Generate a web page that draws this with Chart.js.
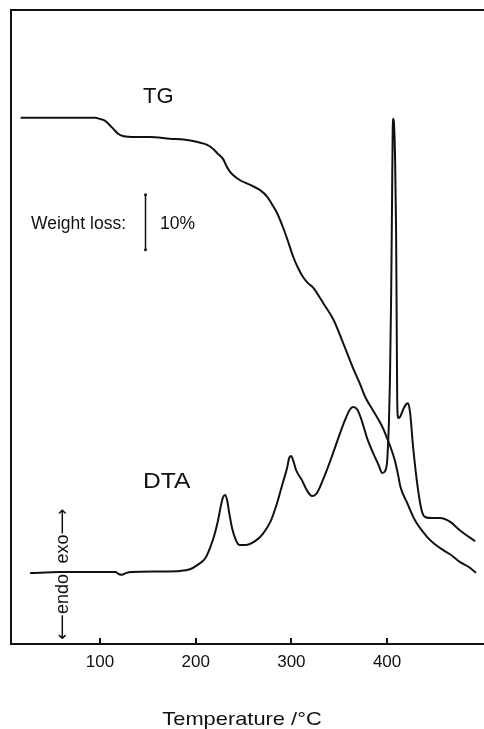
<!DOCTYPE html>
<html>
<head>
<meta charset="utf-8">
<script src="https://cdn.jsdelivr.net/npm/chart.js@4/dist/chart.umd.min.js"></script>
<style>
  html, body { margin: 0; padding: 0; overflow: hidden; background: #fff; width: 484px; height: 729px; }
  canvas { display: block; }
</style>
</head>
<body>
<canvas id="c" width="500" height="729"></canvas>
<script>
// TG: sample weight (%) against temperature (°C)
const tgTemp = [17, 58, 95, 100, 105, 110, 115, 119, 124, 137, 152, 173, 189, 204, 212, 218, 223, 229, 232, 235,
  239, 246, 257, 267, 275, 280, 285, 291, 296, 302, 307, 312, 317, 323, 328, 333, 344, 354, 364, 372,
  377, 385, 394, 400, 408, 411.5, 414, 421, 429, 442, 450, 458, 468, 476, 485, 493];
const tgWeight = [100, 100, 100, 99.8, 99.5, 98.7, 97.8, 97.1, 96.7, 96.5, 96.5, 96.2, 96.0, 95.5, 95.1, 94.4, 93.5, 92.4, 91.3, 90.4,
  89.6, 88.7, 87.8, 86.9, 85.6, 84.2, 82.7, 80.2, 77.8, 74.7, 72.7, 71.1, 70.0, 69.1, 67.8, 66.4, 63.3, 59.1, 54.7, 51.5,
  49.3, 46.9, 44.2, 41.8, 37.8, 35.1, 32.9, 30.0, 26.9, 23.8, 22.5, 21.5, 20.4, 19.3, 18.4, 17.3];

// DTA: differential signal (arbitrary units, exo up) against temperature (°C)
const dtaTemp = [27, 58, 90, 116, 120, 123, 127, 133, 163, 184, 194, 202, 210, 215, 219, 223, 226.5, 228.6, 230.7, 232.8,
  234.9, 238, 242, 246, 252, 262, 270, 278, 285, 291, 295.5, 297.6, 299.6, 301.7, 305, 311, 316, 321.6, 326, 330,
  337, 343.5, 351, 356, 361, 364.5, 369, 373, 379, 385, 391, 395, 398, 400, 401, 402, 403, 404.2, 405.2, 405.9,
  406.6, 407.3, 408.4, 409.4, 410.1, 410.6, 411.5, 413.6, 416.7, 419.9, 422, 424.1, 427.2, 432.4, 436.6, 439.7, 447, 455.4, 466, 476,
  492];
const dtaSignal = [-0.2, 0, 0, 0, -0.4, -0.5, -0.2, 0, 0.1, 0.2, 0.5, 1.3, 2.5, 4.4, 6.4, 9.1, 12.2, 13.6, 14.0, 13.1,
  10.9, 8.0, 5.8, 4.9, 4.9, 5.6, 6.9, 9.1, 12.5, 16.2, 18.9, 20.7, 21.1, 20.4, 18.5, 16.7, 14.9, 13.8, 14.2, 15.5,
  18.5, 21.6, 25.3, 27.6, 29.5, 30.0, 29.5, 27.8, 24.4, 21.8, 19.5, 18.0, 18.4, 20.0, 23.1, 27.6, 34.9, 49.5, 67.6, 80.4,
  82.4, 81.3, 74.9, 62.2, 44.0, 31.3, 28.0, 28.2, 29.5, 30.5, 30.7, 28.9, 22.7, 14.9, 10.9, 10.0, 9.8, 9.8, 9.1, 7.6,
  5.6];

const tempTicks = [100, 200, 300, 400];
const xTitle = 'Temperature /°C';
const scaleBarPercent = 10;

const ink = '#111';
const face = '"Liberation Sans", Arial, Helvetica, "DejaVu Sans", sans-serif';

const toPoints = (xs, ys) => xs.map((t, i) => ({ x: t, y: ys[i] }));

// frame, inward ticks, axis title and the text annotations of the thermogram
const decor = {
  id: 'decor',
  afterDraw(chart) {
    const { ctx, chartArea: a, scales: { x, yTG } } = chart;
    ctx.save();
    ctx.strokeStyle = ink;
    ctx.fillStyle = ink;
    ctx.lineWidth = 2;
    ctx.strokeRect(a.left, a.top, a.right - a.left, a.bottom - a.top);

    tempTicks.forEach(t => {
      const px = Math.round(x.getPixelForValue(t));
      ctx.beginPath();
      ctx.moveTo(px, a.bottom);
      ctx.lineTo(px, a.bottom - 6);
      ctx.stroke();
    });

    // axis title, set slightly wide
    ctx.save();
    ctx.font = '19px ' + face;
    ctx.textAlign = 'center';
    ctx.textBaseline = 'alphabetic';
    ctx.translate(242, 725);
    ctx.scale(1.15, 1);
    ctx.fillText(xTitle, 0, 0);
    ctx.restore();

    ctx.textAlign = 'left';
    ctx.textBaseline = 'alphabetic';
    ctx.font = '22px ' + face;
    ctx.fillText('TG', 143, 103);
    ctx.save();
    ctx.translate(143, 488);
    ctx.scale(1.12, 1);
    ctx.fillText('DTA', 0, 0);
    ctx.restore();

    ctx.font = '17.5px ' + face;
    ctx.fillText('Weight loss:', 31, 229);
    ctx.fillText(scaleBarPercent + '%', 160, 229);

    // 10 % weight-loss scale bar on the TG axis
    const bx = Math.round(x.getPixelForValue(147)) + 0.5;
    const y1 = yTG.getPixelForValue(86);
    const y2 = yTG.getPixelForValue(86 - scaleBarPercent);
    ctx.lineWidth = 1.5;
    ctx.beginPath();
    ctx.moveTo(bx, y1);
    ctx.lineTo(bx, y2);
    ctx.stroke();
    [y1, y2].forEach(yy => { ctx.beginPath(); ctx.arc(bx, yy, 1.5, 0, Math.PI * 2); ctx.fill(); });

    // exo / endo direction markers
    ctx.font = '18px ' + face;
    ctx.textAlign = 'center';
    [['exo\u27F6', 536], ['\u27F5endo', 607]].forEach(([s, cy]) => {
      ctx.save();
      ctx.translate(68, cy);
      ctx.rotate(-Math.PI / 2);
      ctx.fillText(s, 0, 0);
      ctx.restore();
    });
    ctx.restore();
  }
};

new Chart(document.getElementById('c'), {
  type: 'line',
  data: {
    datasets: [
      { label: 'TG', data: toPoints(tgTemp, tgWeight), yAxisID: 'yTG' },
      { label: 'DTA', data: toPoints(dtaTemp, dtaSignal), yAxisID: 'yDTA' }
    ]
  },
  options: {
    responsive: false,
    animation: false,
    devicePixelRatio: 1,
    parsing: false,
    layout: { padding: { left: 11, top: 10, right: 0, bottom: 0 } },
    elements: {
      point: { radius: 0 },
      line: { borderColor: ink, borderWidth: 2, cubicInterpolationMode: 'monotone', fill: false }
    },
    plugins: { legend: { display: false }, tooltip: { enabled: false } },
    scales: {
      x: {
        type: 'linear',
        min: 7,
        max: 518,
        grid: { display: false, drawTicks: false },
        border: { display: false },
        afterBuildTicks(scale) { scale.ticks = tempTicks.map(v => ({ value: v })); },
        afterFit(scale) { scale.height = 85; },
        ticks: { color: ink, padding: 8, maxRotation: 0, font: { size: 17, family: face } },
        title: { display: false, text: xTitle }
      },
      yTG: { type: 'linear', display: false, min: 4.36, max: 119.6 },
      yDTA: { type: 'linear', display: false, min: -13.09, max: 102.18 }
    }
  },
  plugins: [decor]
});
</script>
</body>
</html>
